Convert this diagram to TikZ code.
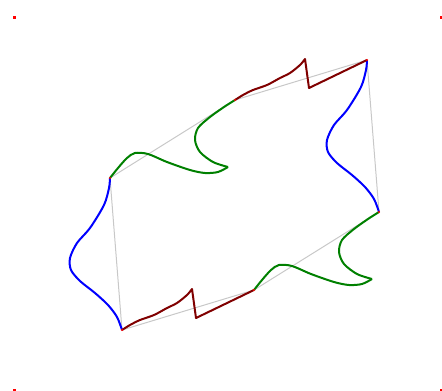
\documentclass[tikz,border=0pt]{standalone}
\usetikzlibrary{calc}

\definecolor{tilegreen}{RGB}{0,128,0}
\definecolor{tilered}{RGB}{128,0,0}
\definecolor{tilegrey}{RGB}{200,200,200}

\begin{document}
\begin{tikzpicture}[x=1pt, y=-1pt, line join=round,
  edge/.style={line width=2pt},
  frame/.style={tilegrey, line width=1pt},
  vtx/.style={fill=red}]
  \useasboundingbox (0,0) rectangle (442,391);

  % --- vertices of the tile ---
  \coordinate (A)  at (110,178);
  \coordinate (M1) at ($(A)+(125,-78)$);
  \coordinate (B)  at ($(A)+(257,-118)$);
  \coordinate (D)  at ($(A)+(12,152)$);
  \coordinate (C)  at ($(B)+(12,152)$);
  \coordinate (M2) at ($(D)+(132,-40)$);

  % --- corner marks of the canvas ---
  \foreach \cx/\cy in {14/17, 441/17, 14/390, 441/390}
    \fill[red] (\cx-1.5,\cy-1.5) rectangle (\cx+1.5,\cy+1.5);

  % --- underlying polygon ---
  \draw[frame] (A) -- (M1) -- (B) -- (C) -- (M2) -- (D) -- cycle;

  % --- blue sides: left one and its translate ---
  \foreach \s in {A,B}{
    \begin{scope}[shift={(\s)}]
      \draw[edge, blue] plot[smooth, tension=0.5] coordinates {(0,0) (-1,10)
        (-6,27) (-20,50) (-33,65) (-40,80) (-39,92) (-30,103) (-15,115)
        (-2,127) (7,139) (12,152)};
    \end{scope}
  }

  % --- green halves: top one and its translate ---
  \foreach \s in {A,M2}{
    \begin{scope}[shift={(\s)}]
      \draw[edge, tilegreen] plot[smooth] coordinates {(0,0) (8,-10) (17,-20)
        (25,-25) (38,-24) (57,-16) (80,-8) (95,-5) (108,-6) (118,-11)};
      \draw[edge, tilegreen] plot[smooth] coordinates {(118,-11) (103,-16)
        (90,-26) (85,-38) (88,-50) (100,-61) (114,-71) (125,-78)};
    \end{scope}
  }

  % --- dark red halves: top one and its translate ---
  \foreach \s in {M1,D}{
    \begin{scope}[shift={(\s)}]
      \draw[edge, tilered] plot[smooth] coordinates {(0,0) (8,-5) (18,-10)
        (32,-15) (45,-22) (55,-27) (65,-35) (70,-41)}
        -- (74,-12) -- (132,-40);
    \end{scope}
  }

  % --- vertex dots ---
  \foreach \p in {A,M1,B,C,M2,D}
    \fill[vtx] (\p) circle (1.2pt);
\end{tikzpicture}
\end{document}
